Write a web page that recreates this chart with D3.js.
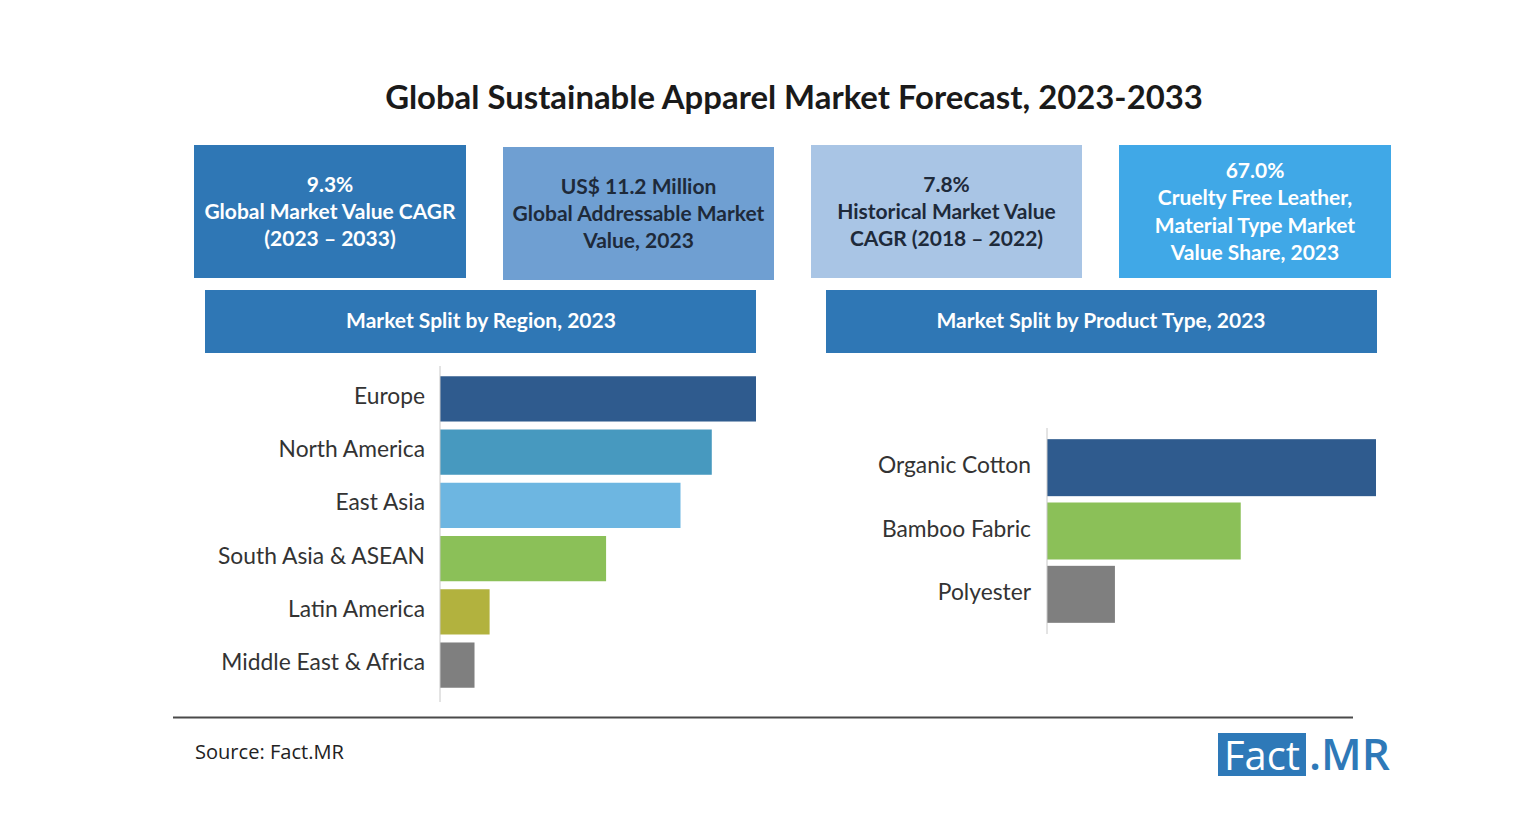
<!DOCTYPE html>
<html><head><meta charset="utf-8">
<script src="https://cdn.jsdelivr.net/npm/d3@7"></script>
<style>body{margin:0;background:#fff;}svg{display:block;}</style>
</head><body>
<svg id="c" width="1536" height="840"></svg>
<script>
// ---- data ----
const title = "Global Sustainable Apparel Market Forecast, 2023-2033";
const kpiLines = [
  ["9.3%", "Global Market Value CAGR", "(2023 – 2033)"],
  ["US$ 11.2 Million", "Global Addressable Market", "Value, 2023"],
  ["7.8%", "Historical Market Value", "CAGR (2018 – 2022)"],
  ["67.0%", "Cruelty Free Leather,", "Material Type Market", "Value Share, 2023"]
];
const regionHeader = "Market Split by Region, 2023";
const productHeader = "Market Split by Product Type, 2023";
const regions = ["Europe", "North America", "East Asia", "South Asia & ASEAN", "Latin America", "Middle East & Africa"];
const regionShare = [29.3, 25.2, 22.3, 15.4, 4.6, 3.2];   // estimated relative share (%)
const products = ["Organic Cotton", "Bamboo Fabric", "Polyester"];
const productShare = [55.7, 32.8, 11.5];                   // estimated relative share (%)
const sourceText = "Source: Fact.MR";

// ---- styles ----
const regionColors = ["#2f5b8e", "#4799bf", "#6db6e1", "#8bc058", "#b2b23e", "#7f7f7f"];
const productColors = ["#2f5b8e", "#8bc058", "#7f7f7f"];
const kpiBoxes = [
  {x:194, y:145, w:272, h:133, fill:"#2f77b5", text:"#ffffff"},
  {x:503, y:147, w:271, h:133, fill:"#6f9fd2", text:"#1e2a3a"},
  {x:811, y:145, w:271, h:133, fill:"#a9c5e5", text:"#1e2a3a"},
  {x:1119, y:145, w:272, h:133, fill:"#40a8e7", text:"#ffffff"}
];
const bodyFont = "Lato, 'Open Sans', sans-serif";

const svg = d3.select("#c");

function fit(sel, width) {
  const n = sel.node();
  const fs = parseFloat(sel.attr("font-size"));
  const w = n.getComputedTextLength();
  if (w > 0) sel.attr("font-size", fs * width / w);
  return sel;
}

// title
const t = svg.append("text").attr("x", 794).attr("y", 109).attr("text-anchor", "middle")
  .attr("font-family", "Lato, sans-serif").attr("font-weight", 700).attr("font-size", 28)
  .attr("fill", "#1a1a1a").text(title);
fit(t, 818);

// separator under title
const grad = svg.append("defs").append("linearGradient").attr("id", "sep");
grad.append("stop").attr("offset", "0%").attr("stop-color", "#d8d8d8");
grad.append("stop").attr("offset", "100%").attr("stop-color", "#9a9a9a");
svg.append("line").attr("x1", 250).attr("x2", 1352).attr("y1", 135.5).attr("y2", 135.5)
  .attr("stroke", "url(#sep)").attr("stroke-width", 1.5);

// KPI boxes
kpiBoxes.forEach((b, i) => {
  svg.append("rect").attr("x", b.x).attr("y", b.y).attr("width", b.w).attr("height", b.h).attr("fill", b.fill);
  const lines = kpiLines[i];
  const lh = 27.3;
  const cy = b.y + b.h / 2;
  const y0 = cy - (lines.length - 1) * lh / 2;
  lines.forEach((l, j) => {
    svg.append("text").attr("x", b.x + b.w / 2).attr("y", y0 + j * lh)
      .attr("dy", "0.35em").attr("text-anchor", "middle")
      .attr("font-family", bodyFont).attr("font-weight", 700).attr("font-size", 21)
      .attr("fill", b.text).text(l);
  });
});

// section headers
[[205, regionHeader, 481], [826, productHeader, 1101]].forEach(([x, txt, cx]) => {
  svg.append("rect").attr("x", x).attr("y", 290).attr("width", 551).attr("height", 63).attr("fill", "#2f77b5");
  svg.append("text").attr("x", cx).attr("y", 321).attr("dy", "0.35em").attr("text-anchor", "middle")
    .attr("font-family", bodyFont).attr("font-weight", 700).attr("font-size", 21)
    .attr("fill", "#ffffff").text(txt);
});

// region chart
const xR = d3.scaleLinear().domain([0, d3.max(regionShare)]).range([440, 756]);
const yR = d3.scaleBand().domain(regions).range([372, 692]).paddingInner(0.15).paddingOuter(0.08);
const gR = svg.append("g");
gR.selectAll("rect").data(regions).join("rect")
  .attr("x", xR(0)).attr("y", d => yR(d))
  .attr("width", (d, i) => xR(regionShare[i]) - xR(0)).attr("height", yR.bandwidth())
  .attr("fill", (d, i) => regionColors[i]);
const axR = svg.append("g").attr("transform", `translate(${xR(0)},0)`)
  .call(d3.axisLeft(yR).tickSize(0).tickPadding(15));
axR.select(".domain").attr("stroke", "#c8c8c8").attr("d", "M0,366V702");
axR.selectAll("text").attr("font-family", bodyFont).attr("font-size", 22.8).attr("fill", "#333").attr("dy", "0.22em");

// product chart
const xP = d3.scaleLinear().domain([0, d3.max(productShare)]).range([1047, 1376]);
const yP = d3.scaleBand().domain(products).range([436, 626]).paddingInner(0.1).paddingOuter(0.05);
svg.append("g").selectAll("rect").data(products).join("rect")
  .attr("x", xP(0)).attr("y", d => yP(d))
  .attr("width", (d, i) => xP(productShare[i]) - xP(0)).attr("height", yP.bandwidth())
  .attr("fill", (d, i) => productColors[i]);
const axP = svg.append("g").attr("transform", `translate(${xP(0)},0)`)
  .call(d3.axisLeft(yP).tickSize(0).tickPadding(16));
axP.select(".domain").attr("stroke", "#c8c8c8").attr("d", "M0,428V634");
axP.selectAll("text").attr("font-family", bodyFont).attr("font-size", 22.8).attr("fill", "#333").attr("dy", "0.25em");

// bottom rule
svg.append("line").attr("x1", 173).attr("x2", 1353).attr("y1", 717.5).attr("y2", 717.5)
  .attr("stroke", "#4a4a4a").attr("stroke-width", 2);

// source
const s = svg.append("text").attr("x", 195).attr("y", 752).attr("dy", "0.35em")
  .attr("font-family", "'Liberation Sans Narrow', 'Open Sans', sans-serif").attr("font-size", 21)
  .attr("fill", "#222").text(sourceText);
fit(s, 149);

// logo
svg.append("rect").attr("x", 1218).attr("y", 733).attr("width", 88).attr("height", 43).attr("fill", "#2e79b8");
const lf = svg.append("text").attr("x", 1262).attr("y", 770).attr("text-anchor", "middle")
  .attr("font-family", "'Open Sans', sans-serif").attr("font-size", 42).attr("fill", "#ffffff").text("Fact");
fit(lf, 76);
const lm = svg.append("text").attr("x", 1309).attr("y", 770)
  .attr("font-family", "'Open Sans', sans-serif").attr("font-weight", 600).attr("font-size", 42).attr("fill", "#2e79b8").text(".MR");
fit(lm, 81);
</script>
</body></html>
